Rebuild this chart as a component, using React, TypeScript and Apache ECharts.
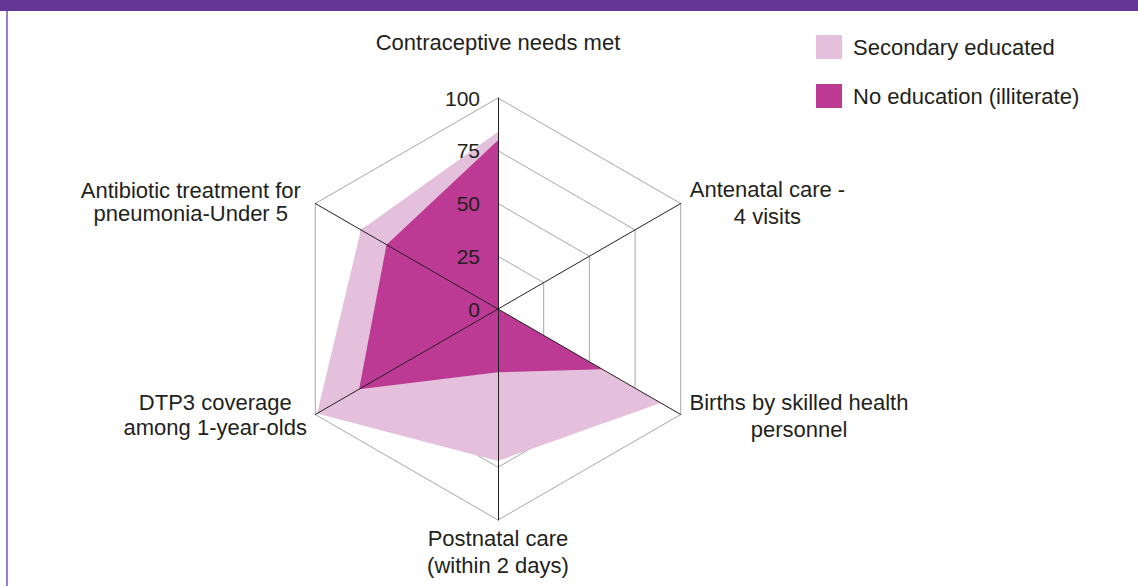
import React, { useEffect, useRef } from 'react';
import * as echarts from 'echarts';

// ---- data ----
const indicatorNames = [
  'Contraceptive needs met',
  'Antibiotic treatment for\npneumonia-Under 5',
  'DTP3 coverage\namong 1-year-olds',
  'Postnatal care\n(within 2 days)',
  'Births by skilled health\npersonnel',
  'Antenatal care -\n4 visits',
];
const indicatorMax = 100;
const tickCount = 4; // 0, 25, 50, 75, 100
const seriesNames = ['Secondary educated', 'No education (illiterate)'];
const secondaryEducated = [84, 75, 99, 72, 89, 0];
const noEducation = [80, 61, 76, 30, 57, 0];

// ---- styling ----
const TEXT = '#231f20';
const FONT = '"Liberation Sans", Arial, Helvetica, sans-serif';
const LIGHT = '#e4c0dc';
const DARK = '#bc3a94';
const NAME_SIZE = 22;

type NameLayout = { gap: number; padding: number[]; key?: string; width?: number; lh: number };
const nameLayout: NameLayout[] = [
  { gap: 42, padding: [0, 0, 0, 0], lh: 27 },
  { gap: 19, padding: [15, 0, 0, 0], key: 'ab', width: 216, lh: 23 },
  { gap: 11, padding: [0, 0, 11, 0], key: 'dt', width: 181, lh: 25 },
  { gap: 5, padding: [0, 0, 0, 0], lh: 27 },
  { gap: 13, padding: [0, 0, 11, 0], key: 'bi', width: 214, lh: 27 },
  { gap: 13, padding: [11, 0, 0, 0], key: 'an', width: 151, lh: 27 },
];

export default function App() {
  const ref = useRef<HTMLDivElement>(null);
  useEffect(() => {
    if (!ref.current) return;
    const chart = echarts.init(ref.current, null, { renderer: 'svg' });
    const center = [498, 309];
    const radius = 211;

    const makeIndicators = (withNames: boolean) =>
      indicatorNames.map((name, i) => {
        const L = nameLayout[i];
        const rich: any = {};
        if (L.key) {
          rich[L.key] = {
            width: L.width,
            align: 'center',
            fontSize: NAME_SIZE,
            lineHeight: L.lh,
            color: TEXT,
            fontFamily: FONT,
          };
        }
        return {
          name,
          min: 0,
          max: indicatorMax,
          nameGap: L.gap,
          nameTextStyle: {
            padding: L.padding,
            lineHeight: L.lh,
            rich,
          },
          axisLabel: i === 0 && withNames ? { show: true } : { show: false },
        };
      });

    const nameFormatter = (name: string) => {
      const i = indicatorNames.indexOf(name);
      const L = nameLayout[i];
      if (!L || !L.key) return name;
      return name
        .split('\n')
        .map((s) => `{${L.key}|${s}}`)
        .join('\n');
    };

    const option: any = {
      animation: false,
      backgroundColor: '#ffffff',
      graphic: [
        { type: 'rect', z: 0, shape: { x: 0, y: 0, width: 1138, height: 11 }, style: { fill: '#643695' } },
        { type: 'rect', z: 0, shape: { x: 6, y: 11, width: 2, height: 575 }, style: { fill: '#9a80c4' } },
      ],
      legend: {
        orient: 'vertical',
        left: 811,
        top: 30,
        icon: 'rect',
        itemWidth: 26,
        itemHeight: 24,
        itemGap: 25,
        data: seriesNames,
        selectedMode: false,
        textStyle: {
          fontSize: NAME_SIZE,
          color: TEXT,
          fontFamily: FONT,
          padding: [0, 0, 0, 6],
          lineHeight: 24,
        },
      },
      radar: [
        {
          center,
          radius,
          shape: 'polygon',
          splitNumber: tickCount,
          startAngle: 90,
          indicator: makeIndicators(false),
          axisName: { show: false },
          axisLine: { show: false },
          axisTick: { show: false },
          axisLabel: { show: false },
          splitLine: { show: true, lineStyle: { color: '#a7a7a7', width: 1 } },
          splitArea: { show: false },
          z: 0,
        },
        {
          center,
          radius,
          shape: 'polygon',
          splitNumber: tickCount,
          startAngle: 90,
          indicator: makeIndicators(true),
          axisName: {
            show: true,
            color: TEXT,
            fontSize: NAME_SIZE,
            fontFamily: FONT,
            formatter: nameFormatter,
          },
          axisLine: { show: true, lineStyle: { color: TEXT, width: 1 } },
          axisTick: { show: false },
          axisLabel: {
            show: false,
            color: TEXT,
            fontSize: 21,
            fontFamily: FONT,
            margin: 18,
          },
          splitLine: { show: false },
          splitArea: { show: false },
          z: 5,
        },
      ],
      series: [
        {
          type: 'radar',
          radarIndex: 0,
          z: 2,
          symbol: 'none',
          lineStyle: { width: 0 },
          data: [
            {
              name: seriesNames[0],
              value: secondaryEducated,
              itemStyle: { color: LIGHT },
              areaStyle: { color: LIGHT, opacity: 1 },
              lineStyle: { width: 0, color: LIGHT },
            },
            {
              name: seriesNames[1],
              value: noEducation,
              itemStyle: { color: DARK },
              areaStyle: { color: DARK, opacity: 1 },
              lineStyle: { width: 0, color: DARK },
            },
          ],
        },
      ],
    };
    chart.setOption(option);
    return () => chart.dispose();
  }, []);
  return (
    <div
      ref={ref}
      style={{ position: 'absolute', left: 0, top: 0, width: 1138, height: 586 }}
    />
  );
}
